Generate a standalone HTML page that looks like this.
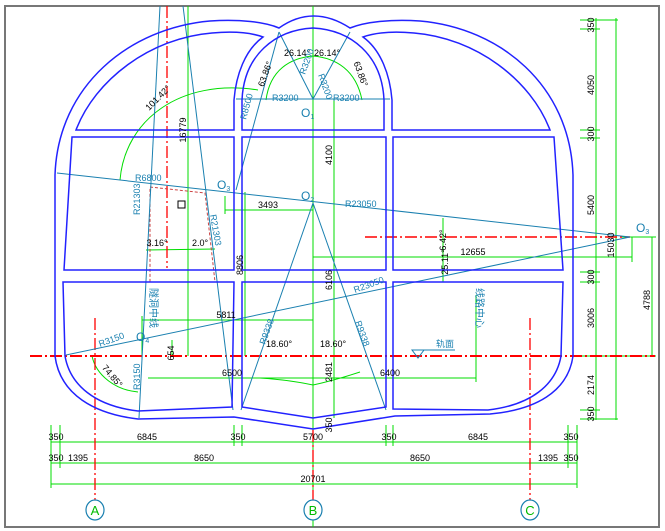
<!DOCTYPE html>
<html><head><meta charset="utf-8"><style>
html,body{margin:0;padding:0;background:#fff;width:665px;height:531px;overflow:hidden}
svg{display:block}
text{font-family:"Liberation Sans","Noto Sans CJK SC",sans-serif}
</style></head><body>
<svg width="665" height="531" viewBox="0 0 665 531" xmlns="http://www.w3.org/2000/svg">
<rect x="5" y="6" width="654" height="521" fill="#fff" stroke="#777" stroke-width="2"/>
<!-- green center/aux lines -->
<g stroke="#00dd00" stroke-width="1" fill="none">
<line x1="313" y1="6" x2="313" y2="527"/>
<line x1="188" y1="6" x2="188" y2="356"/>
<line x1="245" y1="192" x2="245" y2="356"/>
<line x1="334" y1="99" x2="334" y2="418"/>
<!-- bottom dims -->
<line x1="51" y1="442" x2="577" y2="442"/>
<line x1="51" y1="463" x2="577" y2="463"/>
<line x1="51" y1="484" x2="577" y2="484"/>
<line x1="51" y1="425" x2="51" y2="488"/><line x1="60" y1="425" x2="60" y2="468"/>
<line x1="234" y1="425" x2="234" y2="446"/><line x1="242" y1="425" x2="242" y2="446"/>
<line x1="386" y1="425" x2="386" y2="446"/><line x1="393" y1="425" x2="393" y2="446"/>
<line x1="568" y1="425" x2="568" y2="468"/><line x1="577" y1="425" x2="577" y2="488"/>
<!-- right dims -->
<line x1="596" y1="18" x2="596" y2="420"/>
<line x1="616" y1="18" x2="616" y2="420"/>
<line x1="652" y1="237" x2="652" y2="356"/>
<line x1="580" y1="20" x2="618" y2="20"/><line x1="580" y1="29" x2="600" y2="29"/>
<line x1="580" y1="130" x2="600" y2="130"/><line x1="580" y1="138" x2="600" y2="138"/>
<line x1="580" y1="272" x2="600" y2="272"/><line x1="580" y1="282" x2="600" y2="282"/>
<line x1="580" y1="410" x2="600" y2="410"/><line x1="580" y1="419" x2="618" y2="419"/>
<line x1="620" y1="237" x2="656" y2="237"/><line x1="580" y1="356" x2="656" y2="356"/>
<!-- inner dims -->
<line x1="225" y1="210" x2="313" y2="210"/><line x1="225" y1="196" x2="225" y2="214"/>
<line x1="142" y1="320" x2="313" y2="320"/><line x1="142" y1="316" x2="142" y2="360"/>
<line x1="148" y1="378" x2="476" y2="378"/><line x1="476" y1="295" x2="476" y2="382"/>
<line x1="313" y1="257" x2="632" y2="257"/><line x1="632" y1="237" x2="632" y2="262"/>
<line x1="172" y1="340" x2="172" y2="356"/>
<line x1="146" y1="250" x2="215" y2="249"/>
<line x1="443" y1="218" x2="443" y2="282"/>
<!-- arcs -->
<path d="M120,180 C125,120 180,78 258,90"/>
<path d="M266,100 C270,70 290,58 313,56 C336,58 356,70 362,100"/>
<path d="M260,378 Q290,380 313,385 Q336,380 360,372"/>
<path d="M92,356 C96,375 115,390 138,392"/>
</g>
<!-- axis dash-dots -->
<g stroke="#ff0000" stroke-width="1.3" fill="none" stroke-dasharray="12,3,2,3">
<line x1="30" y1="356" x2="655" y2="356" stroke-width="2"/>
<line x1="365" y1="237" x2="630" y2="237" stroke-width="1.5"/>
<line x1="95" y1="318" x2="95" y2="500"/>
<line x1="530" y1="318" x2="530" y2="500"/>
<line x1="167" y1="6" x2="167" y2="268"/>
<line x1="313" y1="430" x2="313" y2="500"/>
</g>
<g stroke="#cc4444" stroke-width="1" stroke-dasharray="3,2" fill="none">
<path d="M150,187 L205,193 L215,282 L150,282 Z"/>
</g>
<!-- steel-blue construction lines -->
<g stroke="#1a80b0" stroke-width="1" fill="none">
<line x1="630" y1="237" x2="57" y2="173"/>
<line x1="630" y1="237" x2="66" y2="355"/>
<line x1="160" y1="6" x2="139" y2="418"/>
<line x1="183" y1="6" x2="233" y2="410"/>
<line x1="313" y1="203" x2="241" y2="410"/>
<line x1="313" y1="203" x2="386" y2="410"/>
<line x1="313" y1="99" x2="279" y2="32"/>
<line x1="313" y1="99" x2="350" y2="32"/>
<line x1="279" y1="32" x2="236" y2="190"/>
<line x1="236" y1="99" x2="390" y2="99"/>
</g>
<!-- structure -->
<g stroke="#2222ff" stroke-width="1.5" fill="none">
<path d="M55,356 L55,175 C58,85 130,28 210,21 C240,19 265,22 279,28 Q313,4 350,28 C365,22 390,19 420,21 C500,28 570,85 573,175 L573,356 C568,392 535,410 490,414 L395,416 L313,429 L234,417 L138,419 C95,414 60,395 55,356 Z"/>
<path d="M76,130 C95,80 150,38 212,33 C235,31 252,33 263,37 C245,50 236,75 234,100 L234,130 Z"/>
<path d="M550,130 C531,80 476,38 414,33 C391,31 374,33 363,37 C381,50 390,75 392,100 L392,130 Z"/>
<path d="M242,130 L242,100 C244,55 275,30 313,28 C351,30 382,55 384,100 L384,130 Z"/>
<path d="M72,137 L234,137 L234,270 L64,270 Z"/>
<path d="M242,137 L386,137 L386,270 L242,270 Z"/>
<path d="M393,137 L554,137 L563,270 L393,270 Z"/>
<path d="M63,282 L234,282 L232,407 L138,411 C95,406 70,385 65,356 Z"/>
<path d="M242,282 L386,282 L386,407 L313,418 L242,407 Z"/>
<path d="M393,282 L563,282 L561,356 C556,385 531,405 488,410 L393,409 Z"/>
</g>
<rect x="178" y="201" width="7" height="7" fill="none" stroke="#000" stroke-width="1"/>
<!-- rail symbol -->
<g stroke="#1a80b0" fill="none"><path d="M412,350 L424,350 L418,358 Z"/><line x1="418" y1="350" x2="455" y2="350"/></g>
<!-- axis circles -->
<g stroke="#1a80b0" stroke-width="1.2" fill="#fff">
<ellipse cx="95" cy="510" rx="9" ry="10"/><ellipse cx="313" cy="510" rx="9" ry="10"/><ellipse cx="530" cy="510" rx="9" ry="10"/>
</g>
<g fill="#00bb00" font-size="13" text-anchor="middle">
<text x="95" y="515">A</text><text x="313" y="515">B</text><text x="530" y="515">C</text>
</g>
<!-- dim texts -->
<g fill="#000" font-size="9" text-anchor="middle">
<text x="56" y="440">350</text><text x="147" y="440">6845</text><text x="238" y="440">350</text><text x="313" y="440">5700</text><text x="389" y="440">350</text><text x="478" y="440">6845</text><text x="571" y="440">350</text>
<text x="56" y="461">350</text><text x="78" y="461">1395</text><text x="204" y="461">8650</text><text x="420" y="461">8650</text><text x="548" y="461">1395</text><text x="571" y="461">350</text>
<text x="313" y="482">20701</text>
<text x="268" y="208">3493</text><text x="226" y="318">5811</text><text x="232" y="376">6500</text><text x="390" y="376">6400</text><text x="473" y="255">12655</text>
<text x="297" y="56">26.14°</text><text x="327" y="56">26.14°</text><text x="279" y="347">18.60°</text><text x="333" y="347">18.60°</text>
<text x="200" y="246">2.0°</text><text x="157" y="246">3.16°</text>
</g>
<g fill="#000" font-size="9" text-anchor="middle">
<text transform="translate(594,25) rotate(-90)">350</text>
<text transform="translate(594,85) rotate(-90)">4050</text>
<text transform="translate(594,134) rotate(-90)">300</text>
<text transform="translate(594,205) rotate(-90)">5400</text>
<text transform="translate(594,277) rotate(-90)">300</text>
<text transform="translate(594,318) rotate(-90)">3006</text>
<text transform="translate(594,385) rotate(-90)">2174</text>
<text transform="translate(594,414) rotate(-90)">350</text>
<text transform="translate(614,245) rotate(-90)">15030</text>
<text transform="translate(650,300) rotate(-90)">4788</text>
<text transform="translate(186,130) rotate(-90)">16779</text>
<text transform="translate(332,155) rotate(-90)">4100</text>
<text transform="translate(243,265) rotate(-90)">8806</text>
<text transform="translate(332,280) rotate(-90)">6106</text>
<text transform="translate(332,372) rotate(-90)">2481</text>
<text transform="translate(332,425) rotate(-90)">350</text>
<text transform="translate(174,353) rotate(-90)">654</text>
<text transform="translate(446,240) rotate(-90)">6.42°</text>
<text transform="translate(448,262) rotate(-90)">25.11°</text>
<text transform="translate(160,100) rotate(-45)">101.42°</text>
<text transform="translate(268,75) rotate(-70)">63.86°</text>
<text transform="translate(358,75) rotate(70)">63.86°</text>
<text transform="translate(110,378) rotate(50)">74.85°</text>
</g>
<g fill="#1a80b0" font-size="9">
<text x="272" y="101">R3200</text><text x="333" y="101">R3200</text>
<text x="135" y="181">R6800</text><text x="345" y="207">R23050</text><text x="355" y="293" transform="rotate(-20,355,293)">R23050</text>
<text x="100" y="347" transform="rotate(-20,100,347)">R3150</text>
<text transform="translate(140,215) rotate(-90)">R21303</text>
<text transform="translate(210,215) rotate(80)">R21303</text>
<text transform="translate(246,120) rotate(-75)">R8500</text>
<text transform="translate(305,75) rotate(-70)">R3200</text>
<text transform="translate(318,75) rotate(70)">R3200</text>
<text transform="translate(265,345) rotate(-70)">R9338</text>
<text transform="translate(355,322) rotate(70)">R9338</text>
<text transform="translate(140,390) rotate(-90)">R3150</text>
<text x="436" y="347" fill="#1a80b0">轨面</text>
<g font-size="12"><text x="301" y="117">O<tspan font-size="7" dy="2">1</tspan></text><text x="301" y="200">O<tspan font-size="7" dy="2">2</tspan></text><text x="217" y="189">O<tspan font-size="7" dy="2">3</tspan></text><text x="636" y="232">O<tspan font-size="7" dy="2">3</tspan></text><text x="136" y="341">O<tspan font-size="7" dy="2">4</tspan></text></g>
<text transform="translate(150,288) rotate(90)" font-size="10">隧洞中线</text>
<text transform="translate(476,288) rotate(90)" font-size="10">线路中心</text>
</g>
</svg>
</body></html>
